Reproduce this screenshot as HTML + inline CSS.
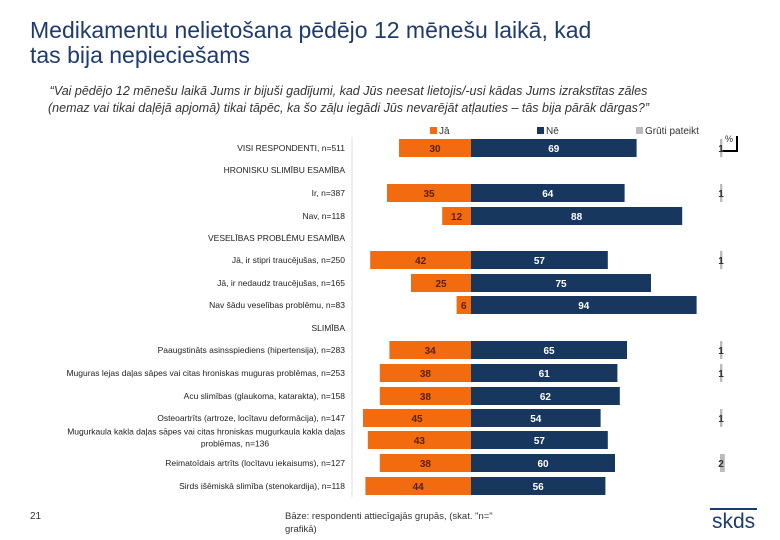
<!DOCTYPE html>
<html><head><meta charset="utf-8"><style>
body{margin:0;width:780px;height:540px;background:#fff;font-family:"Liberation Sans",sans-serif;position:relative;overflow:hidden}
.t{position:absolute;white-space:nowrap}
</style></head><body>
<div class="t" style="left:30px;top:18px;font-size:23px;line-height:25px;color:#1f3a6e">Medikamentu nelietošana pēdējo 12 mēnešu laikā, kad<br>tas bija nepieciešams</div>
<div class="t" style="left:48px;top:83px;font-size:12.5px;line-height:17px;font-style:italic;color:#333;text-align:center">“Vai pēdējo 12 mēnešu laikā Jums ir bijuši gadījumi, kad Jūs neesat lietojis/-usi kādas Jums izrakstītas zāles<br>(nemaz vai tikai daļējā apjomā) tikai tāpēc, ka šo zāļu iegādi Jūs nevarējāt atļauties – tās bija pārāk dārgas?”</div>
<svg id="c" width="780" height="540" style="position:absolute;left:0;top:0"></svg>
<div class="t" style="left:30px;top:511px;font-size:10px;color:#333">21</div>
<div class="t" style="left:285px;top:510px;font-size:9.5px;line-height:13px;color:#333">Bāze: respondenti attiecīgajās grupās, (skat. "n="<br>grafikā)</div>
<div class="t" style="left:710px;top:508px;font-size:21px;color:#1f3a6e;border-top:2px solid #1f3a6e;padding:0 2px">skds</div>
<script>
const labels=["VISI RESPONDENTI, n=511","HRONISKU SLIMĪBU ESAMĪBA","Ir, n=387","Nav, n=118","VESELĪBAS PROBLĒMU ESAMĪBA","Jā, ir stipri traucējušas, n=250","Jā, ir nedaudz traucējušas, n=165","Nav šādu veselības problēmu, n=83","SLIMĪBA","Paaugstināts asinsspiediens (hipertensija), n=283","Muguras lejas daļas sāpes vai citas hroniskas muguras problēmas, n=253","Acu slimības (glaukoma, katarakta), n=158","Osteoartrīts (artroze, locītavu deformācija), n=147","Mugurkaula kakla daļas sāpes vai citas hroniskas mugurkaula kakla daļas|problēmas, n=136","Reimatoīdais artrīts (locītavu iekaisums), n=127","Sirds išēmiskā slimība (stenokardija), n=118"];
const yes=[30,null,35,12,null,42,25,6,null,34,38,38,45,43,38,44];
const no=[69,null,64,88,null,57,75,94,null,65,61,62,54,57,60,56];
const hard=[1,null,1,0,null,1,0,0,null,1,1,0,1,0,2,0];
const rowY=[148,170,193,216,238,260,283,305,328,350,373,396,418,440,463,486];
const svg=document.getElementById('c');const NS='http://www.w3.org/2000/svg';
const x0=471,k=2.4;const xs=v=>v*k;
function mk(t,a){const e=document.createElementNS(NS,t);for(const n in a)e.setAttribute(n,a[n]);svg.appendChild(e);return e;}
let ln=mk('line',{x1:352,y1:137,x2:352,y2:497,stroke:'#ddd'});

// legend
[["Jā","#f26b0f",430],["Nē","#17375e",537],["Grūti pateikt","#bbb",636]].forEach(l=>{
 let r=mk('rect',{x:l[2],y:127,width:7,height:7,fill:l[1]});
 
 let t=mk('text',{x:l[2]+9,y:134,'font-size':10,fill:'#333'});t.textContent=l[0];
 
});
let pc=mk('text',{x:725,y:142,'font-size':9,fill:'#333'});pc.textContent='%';

let pl=mk('path',{d:'M722 151 H737 V136',stroke:'#000','stroke-width':2,fill:'none'});

labels.forEach((lab,i)=>{
 const y=rowY[i];const parts=lab.split('|');
 parts.forEach((p,j)=>{
  let t=mk('text',{x:parts.length>1&&j==1?235:345,y:y+3+(parts.length>1?(j-0.7)*12:0),'text-anchor':parts.length>1&&j==1?'middle':'end','font-size':8.5,fill:'#222'});
  t.textContent=p;
 });
 if(yes[i]==null)return;
 let a=mk('rect',{x:x0-xs(yes[i]),y:y-9,width:xs(yes[i]),height:18,fill:'#f26b0f'});
 
 let at=mk('text',{x:x0-xs(yes[i])/2,y:y+4,'text-anchor':'middle','font-size':10,'font-weight':'bold',fill:'#5a1e00'});at.textContent=yes[i];
 
 let b=mk('rect',{x:x0,y:y-9,width:xs(no[i]),height:18,fill:'#17375e'});
 
 let bt=mk('text',{x:x0+xs(no[i])/2,y:y+4,'text-anchor':'middle','font-size':10,'font-weight':'bold',fill:'#fff'});bt.textContent=no[i];
 
 if(hard[i]>0){
  let g=mk('rect',{x:720,y:y-9,width:xs(hard[i]),height:18,fill:'#bbb'});
  
  let gt=mk('text',{x:721,y:y+4,'text-anchor':'middle','font-size':10,'font-weight':'bold',fill:'#333'});gt.textContent=hard[i];
  
 }
});
</script>
</body></html>
